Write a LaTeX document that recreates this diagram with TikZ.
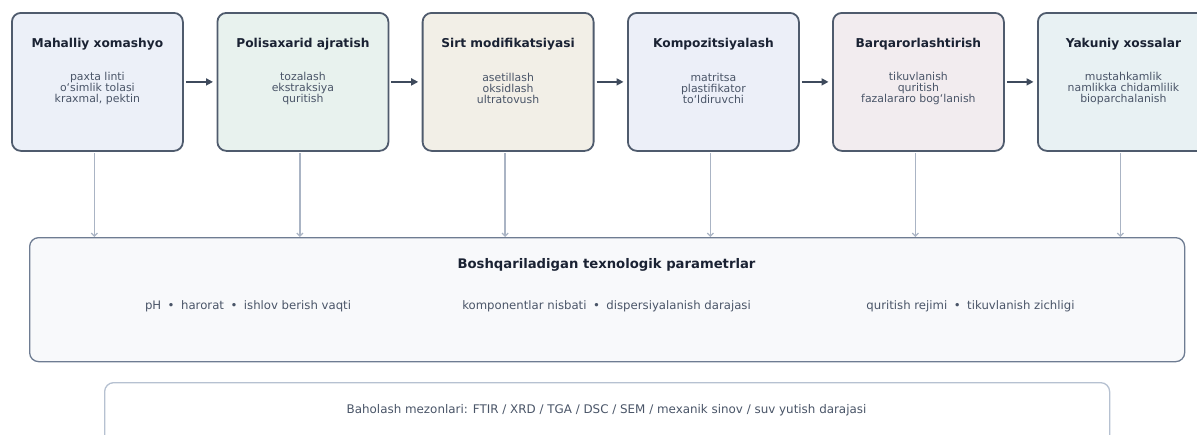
\documentclass[tikz,border=0pt]{standalone}
\usepackage{fontspec}
\setmainfont{DejaVu Sans}
\usetikzlibrary{arrows.meta,calc}
\definecolor{bordc}{HTML}{4F5B6D}
\definecolor{titc}{HTML}{1A2233}
\definecolor{bodc}{HTML}{4A5568}
\definecolor{arrc}{HTML}{3E4A5C}
\definecolor{vlc}{HTML}{AAB4C4}
\definecolor{bigb}{HTML}{6E7C92}
\definecolor{bigf}{HTML}{F8F9FB}
\definecolor{botb}{HTML}{B6C1D1}
\definecolor{fa}{HTML}{ECF0F8}
\definecolor{fb}{HTML}{E8F2EE}
\definecolor{fc}{HTML}{F2EFE7}
\definecolor{fd}{HTML}{ECEFF8}
\definecolor{fe}{HTML}{F2ECEF}
\definecolor{ff}{HTML}{E8F1F3}
\tikzset{
  stagebox/.style={draw=bordc, line width=1.8pt, rounded corners=9pt, minimum width=171pt, minimum height=138pt, inner sep=0pt, anchor=north west},
  stagetitle/.style={font=\fontsize{12.2}{14}\selectfont\bfseries, text=titc, inner sep=0pt},
  stagebody/.style={font=\fontsize{10.9}{11.3}\selectfont, text=bodc, align=center, inner sep=0pt},
  flowarrow/.style={draw=arrc, line width=2pt, -{Triangle[length=7pt,width=7pt]}},
  vline/.style={draw=vlc, line width=1.3pt, -{Straight Barb[length=3pt,width=6pt]}},
  bigbox/.style={draw=bigb, line width=1.3pt, fill=bigf, rounded corners=9pt, inner sep=0pt, anchor=north west},
  botbox/.style={draw=botb, line width=1.3pt, fill=white, rounded corners=9pt, inner sep=0pt, anchor=north west},
  bigtitle/.style={font=\fontsize{13.2}{15}\selectfont\bfseries, text=titc, inner sep=0pt},
  paramtext/.style={font=\fontsize{11.7}{13}\selectfont, text=bodc, inner sep=0pt},
  bottext/.style={font=\fontsize{11.9}{13}\selectfont, text=bodc, inner sep=0pt},
}
\newcommand{\sepdot}{\hspace{6.5pt}•\hspace{6.5pt}}
\begin{document}
\begin{tikzpicture}[x=1pt,y=-1pt]
\useasboundingbox (0,0) rectangle (1197,434);
\begin{scope}
\clip (0,0) rectangle (1197,434);
% big and bottom boxes
\node[bigbox, minimum width=1155pt, minimum height=124pt] (big) at (29,237) {};
\node[botbox, minimum width=1005pt, minimum height=80pt] (bot) at (104,382) {};
\node[bigtitle] (bigt) at (606.5,265) {Boshqariladigan texnologik parametrlar};
\node[paramtext] (p1) at (248,306.7) {pH\sepdot harorat\sepdot ishlov berish vaqti};
\node[paramtext] (p2) at (606.5,306.7) {komponentlar nisbati\sepdot dispersiyalanish darajasi};
\node[paramtext] (p3) at (970.5,306.7) {quritish rejimi\sepdot tikuvlanish zichligi};
\node[bottext] (bott) at (606.5,410) {Baholash mezonlari: FTIR / XRD / TGA / DSC / SEM / mexanik sinov / suv yutish darajasi};
% stage boxes
\foreach \i/\x/\f/\t/\b in {
  1/11/fa/{Mahalliy xomashyo}/{paxta linti\\oʻsimlik tolasi\\kraxmal, pektin},
  2/216.5/fb/{Polisaxarid ajratish}/{tozalash\\ekstraksiya\\quritish},
  3/421.7/fc/{Sirt modifikatsiyasi}/{asetillash\\oksidlash\\ultratovush},
  4/627/fd/{Kompozitsiyalash}/{matritsa\\plastifikator\\toʻldiruvchi},
  5/832/fe/{Barqarorlashtirish}/{tikuvlanish\\quritish\\fazalararo bogʻlanish},
  6/1037/ff/{Yakuniy xossalar}/{mustahkamlik\\namlikka chidamlilik\\bioparchalanish}}{
  \node[stagebox, fill=\f] (s\i) at (\x,12) {};
  \node[stagetitle] (t\i) at ($(s\i.north)+(0,32.3)$) {\t};
  \node[stagebody] (b\i) at ($(s\i.north)+(0,76.5)$) {\b};
  \coordinate (v\i) at ($(s\i.south)+(-3,1.5)$);
  \draw[vline] (v\i) -- (v\i |- big.north);
}
\foreach \i [evaluate=\i as \j using int(\i+1)] in {1,...,5}{
  \draw[flowarrow] ($(s\i.east)+(2,0)$) -- ($(s\j.west)+(-3.5,0)$);
}
\end{scope}
\end{tikzpicture}
\end{document}
